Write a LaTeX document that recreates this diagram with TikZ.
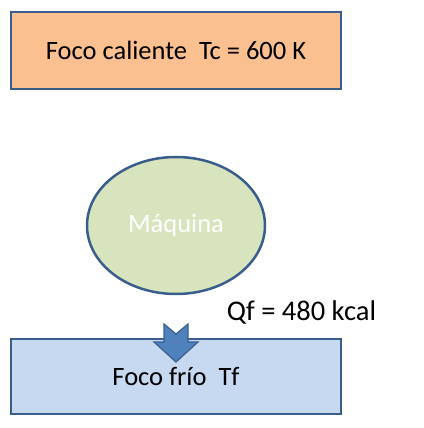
\documentclass[tikz,border=0pt]{standalone}
\usepackage{fontspec}
\setmainfont{Carlito}
\usetikzlibrary{shapes.geometric}
\definecolor{bordc}{HTML}{3A5E8C}
\definecolor{hotc}{HTML}{FAC090}
\definecolor{machc}{HTML}{D7E4BD}
\definecolor{coldc}{HTML}{C6D9F1}
\definecolor{arrc}{HTML}{4F81BD}
\begin{document}
\begin{tikzpicture}[x=1pt,y=1pt,
  boxst/.style={draw=bordc,line width=2.5pt,rectangle,minimum width=330pt,inner sep=0pt,font=\fontsize{26.5}{30}\selectfont},
  ellst/.style={draw=bordc,line width=2.5pt,ellipse,fill=machc,minimum width=178pt,minimum height=137pt,inner sep=0pt,text=white,font=\fontsize{26.5}{30}\selectfont},
  lblst/.style={inner sep=0pt,font=\fontsize{28.5}{32}\selectfont}]
\useasboundingbox (0,0) rectangle (423,428);
\node[boxst,fill=hotc,minimum height=77pt] (hot) at (176,377.5) {Foco caliente\ \ Tc = 600 K};
\node[ellst] (mach) at (176,202.5) {Máquina};
\node[boxst,fill=coldc,minimum height=75pt] (cold) at (176,51.5) {Foco frío\ \ Tf};
\node[lblst] (qf) at (301.5,116) {Qf = 480 kcal};
\draw[draw=bordc,fill=arrc,line width=1.2pt,line join=miter]
  (164,104) -- (176,94) -- (188,104) -- (188,86) -- (198,86) -- (176,66) -- (154,86) -- (164,86) -- cycle;
\end{tikzpicture}
\end{document}
